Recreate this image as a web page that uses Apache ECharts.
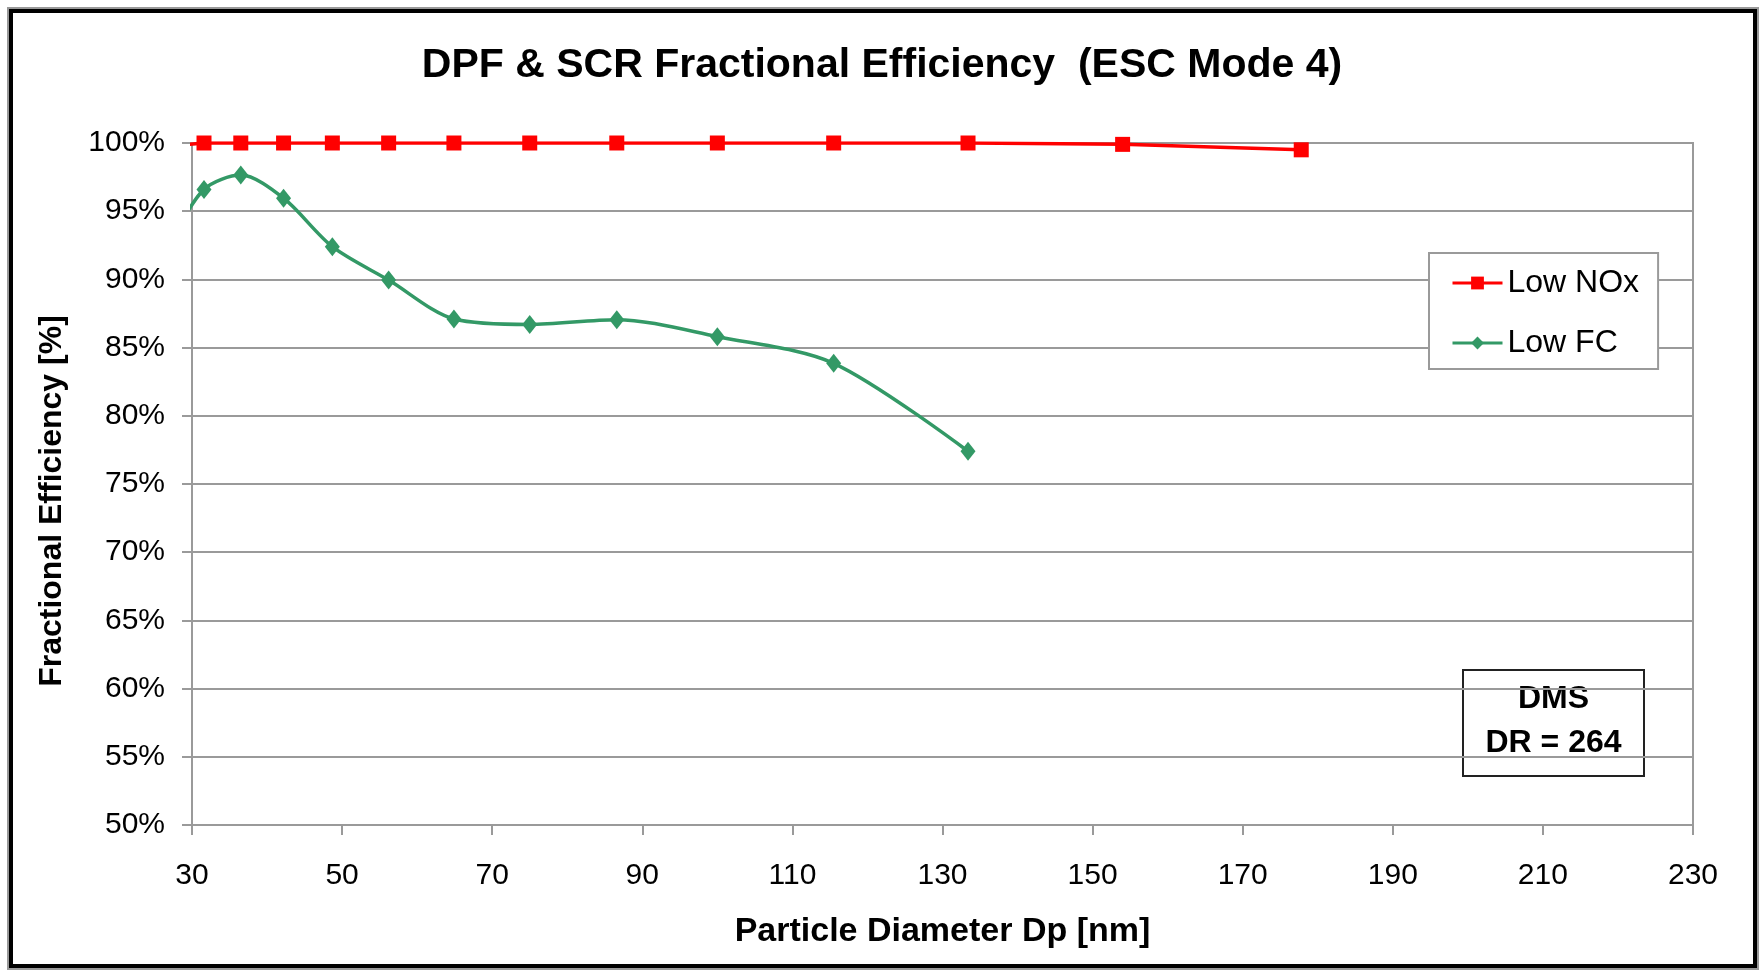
<!DOCTYPE html>
<html>
<head>
<meta charset="utf-8">
<script src="https://cdn.jsdelivr.net/npm/echarts@6/dist/echarts.min.js"></script>
<style>
  html, body { margin: 0; padding: 0; background: #fff; }
  #chart { width: 1764px; height: 973px; }
</style>
</head>
<body>
<div id="chart"></div>
<script>
// Particle diameter bins [nm] (DMS channel centres)
var diameters = [27.4, 31.6, 36.5, 42.2, 48.7, 56.2, 64.9, 75.0, 86.6, 100.0, 115.5, 133.4, 154.0, 177.8];
// Fractional efficiency [%]
var lowNOx = [99.8, 100, 100, 100, 100, 100, 100, 100, 100, 100, 100, 100, 99.9, 99.5];
var lowFC = [93.0, 96.6, 97.65, 95.95, 92.4, 89.95, 87.1, 86.7, 87.05, 85.8, 83.85, 77.4];

var xTicks = { min: 30, max: 230, step: 20 };
var yTicks = { min: 50, max: 100, step: 5 };

var font = 'Arial, "Liberation Sans", sans-serif';
var gridColor = '#9a9a9a';

function pairs(xs, ys) {
  return ys.map(function(v, i) { return [xs[i], v]; });
}

var chart = echarts.init(document.getElementById('chart'));
chart.setOption({
  animation: false,
  backgroundColor: '#fff',
  textStyle: { fontFamily: font, color: '#000' },
  title: {
    text: 'DPF & SCR Fractional Efficiency  (ESC Mode 4)',
    left: 'center',
    top: 45,
    padding: 0,
    textStyle: { fontFamily: font, fontSize: 41, fontWeight: 'bold', color: '#000' }
  },
  grid: {
    left: 192, right: 71, top: 143, bottom: 148,
    show: true, borderColor: gridColor, borderWidth: 2, backgroundColor: '#fff'
  },
  legend: {
    orient: 'vertical',
    left: 1429, top: 253,
    padding: [14, 19, 10, 22],
    itemGap: 28,
    itemWidth: 50, itemHeight: 16,
    lineStyle: { width: 3 },
    backgroundColor: '#fff',
    borderColor: gridColor, borderWidth: 2,
    textStyle: { fontFamily: font, fontSize: 32, color: '#000' },
    data: ['Low NOx', 'Low FC']
  },
  xAxis: {
    type: 'value',
    min: xTicks.min, max: xTicks.max, interval: xTicks.step,
    name: 'Particle Diameter Dp [nm]',
    nameLocation: 'middle',
    nameGap: 90,
    nameTextStyle: { fontFamily: font, fontSize: 34, fontWeight: 'bold', color: '#000' },
    axisLine: { show: true, lineStyle: { color: gridColor, width: 2 } },
    axisTick: { show: true, length: 10, lineStyle: { color: gridColor, width: 2 } },
    axisLabel: { fontFamily: font, fontSize: 30, color: '#000', margin: 36 },
    splitLine: { show: false }
  },
  yAxis: {
    type: 'value',
    min: yTicks.min, max: yTicks.max, interval: yTicks.step,
    name: 'Fractional Efficiency [%]',
    nameLocation: 'middle',
    nameGap: 124,
    nameTextStyle: { fontFamily: font, fontSize: 32, fontWeight: 'bold', color: '#000', padding: [0, 34, 0, 0] },
    axisLine: { show: true, lineStyle: { color: gridColor, width: 2 } },
    axisTick: { show: true, length: 10, lineStyle: { color: gridColor, width: 2 } },
    axisLabel: { fontFamily: font, fontSize: 30, color: '#000', margin: 27, formatter: '{value}%' },
    splitLine: { show: true, lineStyle: { color: gridColor, width: 2 } }
  },
  series: [
    {
      name: 'Low NOx',
      type: 'line',
      data: pairs(diameters, lowNOx),
      clip: true,
      symbol: 'rect',
      symbolSize: 15,
      color: '#ff0000',
      lineStyle: { color: '#ff0000', width: 3.5 },
      itemStyle: { color: '#ff0000' },
      z: 3
    },
    {
      name: 'Low FC',
      type: 'line',
      data: pairs(diameters, lowFC),
      clip: true,
      smooth: 0.3,
      symbol: 'diamond',
      symbolSize: [15, 19],
      color: '#339966',
      lineStyle: { color: '#339966', width: 3.5 },
      itemStyle: { color: '#339966' },
      z: 2
    }
  ],
  graphic: [
    // outer chart frame
    { type: 'rect', shape: { x: 8, y: 8, width: 1750, height: 961 }, style: { fill: 'none', stroke: '#999', lineWidth: 2 }, silent: true },
    { type: 'rect', shape: { x: 11, y: 11, width: 1744, height: 955 }, style: { fill: 'none', stroke: '#000', lineWidth: 4 }, silent: true },
    // DMS annotation box
    {
      type: 'group', left: 1462, top: 669, z: 100,
      children: [
        { type: 'rect', shape: { x: 0, y: 0, width: 181, height: 106 }, style: { fill: '#fff', stroke: '#222', lineWidth: 2 } },
        { type: 'text', x: 90.5, y: 29, style: { text: 'DMS', fill: '#000', font: 'bold 32px ' + font, align: 'center', verticalAlign: 'middle' } },
        { type: 'text', x: 90.5, y: 73, style: { text: 'DR = 264', fill: '#000', font: 'bold 32px ' + font, align: 'center', verticalAlign: 'middle' } }
      ]
    }
  ]
});
window.addEventListener('resize', function() { chart.resize(); });
</script>
</body>
</html>
